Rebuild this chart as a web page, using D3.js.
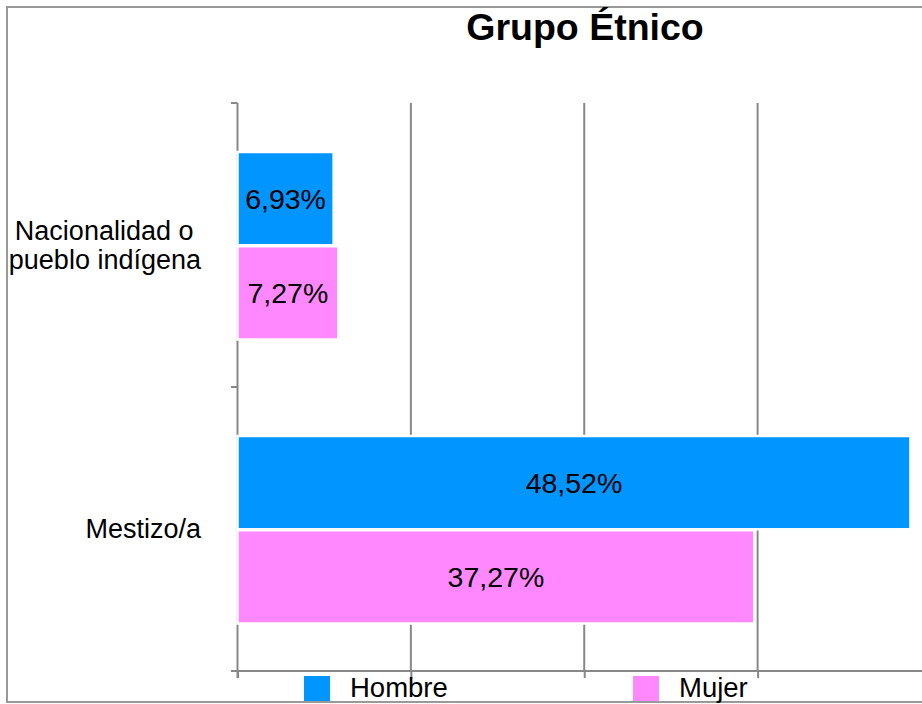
<!DOCTYPE html>
<html>
<head>
  <meta charset="utf-8">
  <title>Grupo Étnico</title>
  <script src="https://d3js.org/d3.v7.min.js"></script>
  <style>
    body { margin: 0; background: #fff; }
    svg { display: block; font-family: "Liberation Sans", Arial, sans-serif; }
  </style>
</head>
<body>
  <div id="chart"></div>
  <script>
    const categories = [["Nacionalidad o ", "pueblo indígena"], ["Mestizo/a"]];
    const series = ["Hombre", "Mujer"];
    const hombre = [6.93, 48.52];
    const mujer = [7.27, 37.27];
    const gridTicks = [0, 12.5, 25, 37.5, 50];
    const colors = ["#0095ff", "#ff88ff"];

    const width = 922, height = 704;
    const svg = d3.select("#chart").append("svg").attr("width", width).attr("height", height);

    // outer frame (cut off on the right)
    svg.append("rect").attr("x", 7).attr("y", 7).attr("width", 1000).attr("height", 695)
      .attr("fill", "none").attr("stroke", "#999").attr("stroke-width", 2);

    svg.append("text").attr("x", 585).attr("y", 40).attr("text-anchor", "middle")
      .attr("font-size", 37.5).attr("font-weight", "bold").text("Grupo Étnico");

    const x = d3.scaleLinear().domain([0, 37.5]).range([237.5, 757.6]);
    const y0 = d3.scaleBand().domain(d3.range(categories.length)).range([103, 671]);
    const y1 = d3.scaleBand().domain(series).range([49, 236.5]).paddingInner(0.01);

    // gridlines
    svg.append("g").selectAll("line").data(gridTicks.slice(1)).join("line")
      .attr("x1", d => x(d)).attr("x2", d => x(d)).attr("y1", 103).attr("y2", 671)
      .attr("stroke", "#888").attr("stroke-width", 2);

    // bottom axis
    const xAxis = svg.append("g").attr("transform", "translate(0,671)")
      .call(d3.axisBottom(x).tickValues(gridTicks).tickSize(7).tickFormat(""));
    xAxis.select(".domain").remove();
    xAxis.selectAll("line").attr("stroke", "#888").attr("stroke-width", 2);
    svg.append("line").attr("x1", 231).attr("x2", width).attr("y1", 671).attr("y2", 671)
      .attr("stroke", "#888").attr("stroke-width", 2);

    // left axis with boundary ticks
    svg.append("line").attr("x1", x(0)).attr("x2", x(0)).attr("y1", 103).attr("y2", 678)
      .attr("stroke", "#888").attr("stroke-width", 2);
    const bounds = [103].concat(d3.range(categories.length).map(i => y0(i) + y0.bandwidth()));
    svg.append("g").selectAll("line").data(bounds).join("line")
      .attr("x1", 231).attr("x2", x(0)).attr("y1", d => d).attr("y2", d => d)
      .attr("stroke", "#888").attr("stroke-width", 2);

    // bars
    const rows = categories.map((c, i) => [
      { s: "Hombre", v: hombre[i], c: colors[0] },
      { s: "Mujer", v: mujer[i], c: colors[1] }
    ]);
    const grp = svg.append("g").selectAll("g").data(rows).join("g")
      .attr("transform", (d, i) => `translate(0,${y0(i)})`);
    grp.selectAll("rect").data(d => d).join("rect")
      .attr("x", x(0)).attr("y", d => y1(d.s))
      .attr("width", d => x(d.v) - x(0)).attr("height", y1.bandwidth())
      .attr("fill", d => d.c).attr("stroke", "#fff").attr("stroke-width", 2.5);
    grp.selectAll("text").data(d => d).join("text")
      .attr("x", d => (x(0) + x(d.v)) / 2).attr("y", d => y1(d.s) + y1.bandwidth() / 2 + 10)
      .attr("text-anchor", "middle").attr("font-size", 28.5)
      .text(d => d.v.toFixed(2).replace(".", ",") + "%");

    // category labels
    categories.forEach((lines, i) => {
      const cy = y0(i) + y0.bandwidth() / 2;
      const lh = 29;
      const t = svg.append("text").attr("text-anchor", "end").attr("font-size", 27)
        .attr("xml:space", "preserve").style("white-space", "pre");
      lines.forEach((l, j) => {
        t.append("tspan").attr("x", 201)
          .attr("y", cy + 9 + (j - (lines.length - 1) / 2) * lh).text(l);
      });
    });

    // legend
    const legX = [304, 633];
    series.forEach((s, i) => {
      svg.append("rect").attr("x", legX[i]).attr("y", 676).attr("width", 26).attr("height", 25)
        .attr("fill", colors[i]);
      svg.append("text").attr("x", legX[i] + 46).attr("y", 697).attr("font-size", 27.5).text(s);
    });
  </script>
</body>
</html>
